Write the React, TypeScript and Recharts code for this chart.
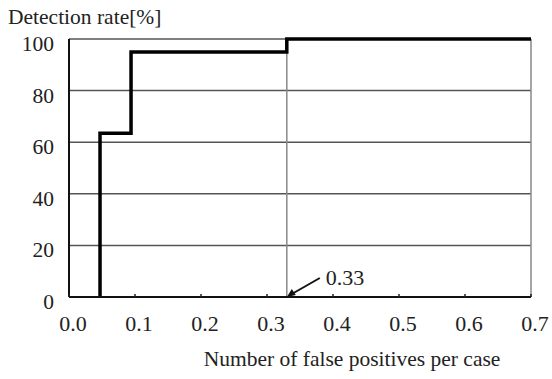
import React from 'react';
import { LineChart, Line, XAxis, YAxis, CartesianGrid, ReferenceLine, ReferenceDot } from 'recharts';

// step curve of the detection rate
const fpPerCase = [0.047, 0.047, 0.094, 0.33, 0.7];
const detectionRate = [0, 63.5, 95, 100, 100];

const xTicks = [0, 0.1, 0.2, 0.3, 0.4, 0.5, 0.6, 0.7];
const yTicks = [0, 20, 40, 60, 80, 100];
const markX = 0.33;
const markLabel = '0.33';

const data = fpPerCase.map((fp, i) => ({ fp, rate: detectionRate[i] }));

const FONT = '"Liberation Serif", "Times New Roman", serif';

const XTick = (props: any) => {
  const { x, y, payload } = props;
  return (
    <g>
      <line x1={x} x2={x} y1={y - 3} y2={y} stroke="#222" strokeWidth={1.5} />
      <text x={x + 4} y={y + 34} textAnchor="middle" fontFamily={FONT} fontSize={22} fill="#222">
        {payload.value.toFixed(1)}
      </text>
    </g>
  );
};

const YTick = (props: any) => {
  const { x, y, payload } = props;
  return (
    <text x={x - 15} y={y + 12} textAnchor="end" fontFamily={FONT} fontSize={21.5} fill="#222">
      {payload.value}
    </text>
  );
};

const Arrow = (props: any) => {
  const { cx, cy } = props;
  return (
    <g>
      <line x1={cx + 5} y1={cy - 3} x2={cx + 33} y2={cy - 19} stroke="#111" strokeWidth={2} />
      <polygon points={`${cx},${cy} ${cx + 9},${cy - 2} ${cx + 5},${cy - 8}`} fill="#111" />
      <text x={cx + 39} y={cy - 12} fontFamily={FONT} fontSize={22} fill="#222">
        {markLabel}
      </text>
    </g>
  );
};

const App: React.FC = () => {
  return (
    <div style={{ position: 'absolute', left: 0, top: 0, width: 552, height: 379, background: '#fff' }}>
      <LineChart width={552} height={379} data={data} margin={{ top: 39, right: 21, left: 9, bottom: 52 }}>
        <CartesianGrid vertical={false} stroke="#555" strokeWidth={1.5} />
        <XAxis
          dataKey="fp"
          type="number"
          domain={[0, 0.7]}
          ticks={xTicks}
          tick={<XTick />}
          tickLine={false}
          tickSize={0}
          tickMargin={0}
          height={30}
          axisLine={{ stroke: '#111', strokeWidth: 2 }}
        />
        <YAxis
          type="number"
          domain={[0, 100]}
          ticks={yTicks}
          tick={<YTick />}
          tickLine={false}
          tickSize={0}
          tickMargin={0}
          width={60}
          axisLine={{ stroke: '#111', strokeWidth: 2 }}
        />
        <ReferenceLine x={markX} stroke="#888" strokeWidth={1.5} />
        <ReferenceLine x={0.7} stroke="#888" strokeWidth={1.5} />
        <Line
          type="stepAfter"
          dataKey="rate"
          stroke="#000"
          strokeWidth={3.5}
          dot={false}
          isAnimationActive={false}
        />
        <ReferenceDot x={markX} y={0} r={0} shape={<Arrow />} ifOverflow="visible" />
        <text x={8} y={24} fontFamily={FONT} fontSize={21.5} fill="#222">Detection rate[%]</text>
        <text x={352} y={366} textAnchor="middle" fontFamily={FONT} fontSize={21.5} fill="#222">
          Number of false positives per case
        </text>
      </LineChart>
    </div>
  );
};

export default App;
